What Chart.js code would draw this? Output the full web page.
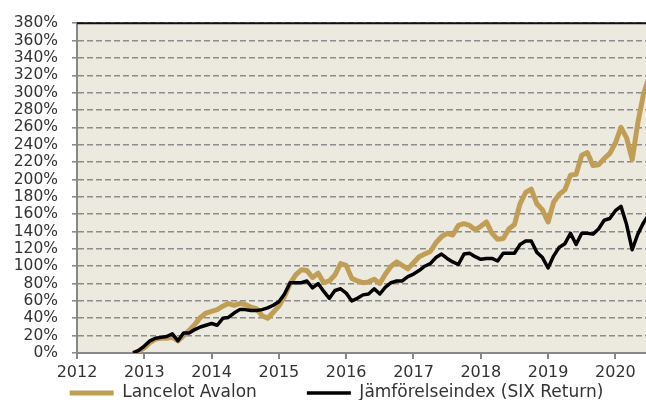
<!DOCTYPE html>
<html>
<head>
<meta charset="utf-8">
<script src="https://cdn.jsdelivr.net/npm/chart.js@4.4.0/dist/chart.umd.min.js"></script>
<style>
    html, body { margin: 0; padding: 0; background: #fff; }
</style>
</head>
<body>
<canvas id="avkastning" width="646" height="400"></canvas>
<script>
// monthly values, first point Nov 2012
const startYear = 2012
const startMonth = 11
const yearTicks = [2012, 2013, 2014, 2015, 2016, 2017, 2018, 2019, 2020]
const percentTicks = [0, 20, 40, 60, 80, 100, 120, 140, 160, 180, 200, 220, 240, 260, 280, 300, 320, 340, 360, 380]
const seriesNames = ['Lancelot Avalon', 'Jämförelseindex (SIX Return)']

const lancelot = [
    0, 2, 6, 12, 16, 17, 17, 18, 14, 20, 26, 33,
    41, 46, 48, 50, 54, 57, 55, 57, 56, 53, 51, 43,
    40, 47, 54, 65, 80, 90, 96, 95, 87, 92, 81, 83,
    90, 103, 101, 86, 83, 81, 82, 85, 80, 91, 100, 105,
    101, 97, 104, 111, 114, 117, 127, 134, 138, 136, 147, 149,
    147, 142, 146, 151, 138, 131, 132, 143, 148, 172, 185, 189,
    172, 165, 151, 174, 183, 188, 205, 206, 228, 231, 216, 217,
    224, 230, 242, 260, 248, 223, 265, 298, 318
]
const benchmark = [
    0, 3, 8, 14, 17, 18, 19, 22, 14, 23, 23, 27,
    30, 32, 34, 32, 40, 41, 46, 50, 50, 49, 49, 50,
    52, 55, 59, 68, 81, 81, 81, 83, 75, 80, 71, 63,
    72, 74, 69, 60, 63, 67, 68, 74, 68, 76, 81, 83,
    83, 88, 91, 95, 100, 103, 110, 114, 109, 105, 102, 114,
    115, 111, 108, 109, 109, 106, 115, 115, 115, 125, 129, 129,
    116, 110, 98, 112, 122, 126, 138, 125, 138, 138, 137, 143,
    153, 155, 164, 169, 148, 119, 137, 150, 160
]

const xMin = 2012
const xMax = 2020.455

const toPoints = (arr) => arr.map((v, i) => ({
    x: startYear + (startMonth - 1) / 12 + i / 12,
    y: v
}))

const plotBackground = {
    id: 'plotBackground',
    beforeDraw(chart) {
        const {ctx, chartArea: a} = chart
        ctx.save()
        ctx.fillStyle = '#ECE9DF'
        ctx.fillRect(a.left, a.top, a.right - a.left, a.bottom - a.top)
        ctx.restore()
    },
    afterDraw(chart) {
        const {ctx, chartArea: a} = chart
        ctx.save()
        ctx.strokeStyle = '#111'
        ctx.lineWidth = 2
        ctx.beginPath()
        ctx.moveTo(a.left, a.top)
        ctx.lineTo(a.right, a.top)
        ctx.stroke()
        ctx.restore()
    },
    afterLayout(chart) {
        // legend sits lower and a bit right of where chart.js puts it
        const lg = chart.legend
        const pad = lg.options.labels.padding
        lg.top = 393 - 8.5 - pad
        lg.bottom = chart.height
        lg.left = -13
        lg.right = chart.width + 40
    }
}

const font = 'DejaVu Sans'

new Chart(document.getElementById('avkastning'), {
    type: 'line',
    data: {
        datasets: [{
            label: seriesNames[0],
            data: toPoints(lancelot),
            borderColor: '#C19E56',
            backgroundColor: '#C19E56',
            borderWidth: 5,
            pointRadius: 0,
            pointStyle: 'line',
            tension: 0,
            borderJoinStyle: 'round',
            order: 2
        }, {
            label: seriesNames[1],
            data: toPoints(benchmark),
            borderColor: '#000',
            backgroundColor: '#000',
            borderWidth: 3.5,
            pointRadius: 0,
            pointStyle: 'line',
            tension: 0,
            borderJoinStyle: 'round',
            order: 1
        }]
    },
    options: {
        responsive: false,
        animation: false,
        layout: { padding: { top: 19, right: 0, left: 0, bottom: 0 } },
        plugins: {
            tooltip: { enabled: false },
            legend: {
                position: 'bottom',
                maxHeight: 20,
                labels: {
                    usePointStyle: true,
                    pointStyleWidth: 44,
                    padding: 50,
                    color: '#333',
                    font: { family: font, size: 17 },
                    sort: (a, b) => a.datasetIndex - b.datasetIndex
                }
            }
        },
        scales: {
            x: {
                type: 'linear',
                min: xMin,
                max: xMax,
                afterBuildTicks: (scale) => { scale.ticks = yearTicks.map(v => ({ value: v })) },
                afterFit: (scale) => { scale.height = 27 },
                grid: { drawOnChartArea: false, drawTicks: true, tickLength: 6, color: '#888', lineWidth: 2 },
                border: { color: '#888', width: 2 },
                ticks: {
                    padding: 4,
                    autoSkip: false,
                    maxRotation: 0,
                    color: '#333',
                    font: { family: font, size: 16 },
                    callback: (v) => String(v)
                }
            },
            y: {
                min: 0,
                max: 380,
                afterBuildTicks: (scale) => { scale.ticks = percentTicks.map(v => ({ value: v })) },
                afterFit: (scale) => { scale.width = 77 },
                grid: { color: '#8C8C8C', lineWidth: 1.6, tickLength: 5 },
                border: { color: '#888', width: 2, dash: [6, 3] },
                ticks: {
                    padding: 14,
                    autoSkip: false,
                    color: '#333',
                    font: { family: font, size: 15.5 },
                    callback: (v) => v + '%'
                }
            }
        }
    },
    plugins: [plotBackground]
})
</script>
</body>
</html>
